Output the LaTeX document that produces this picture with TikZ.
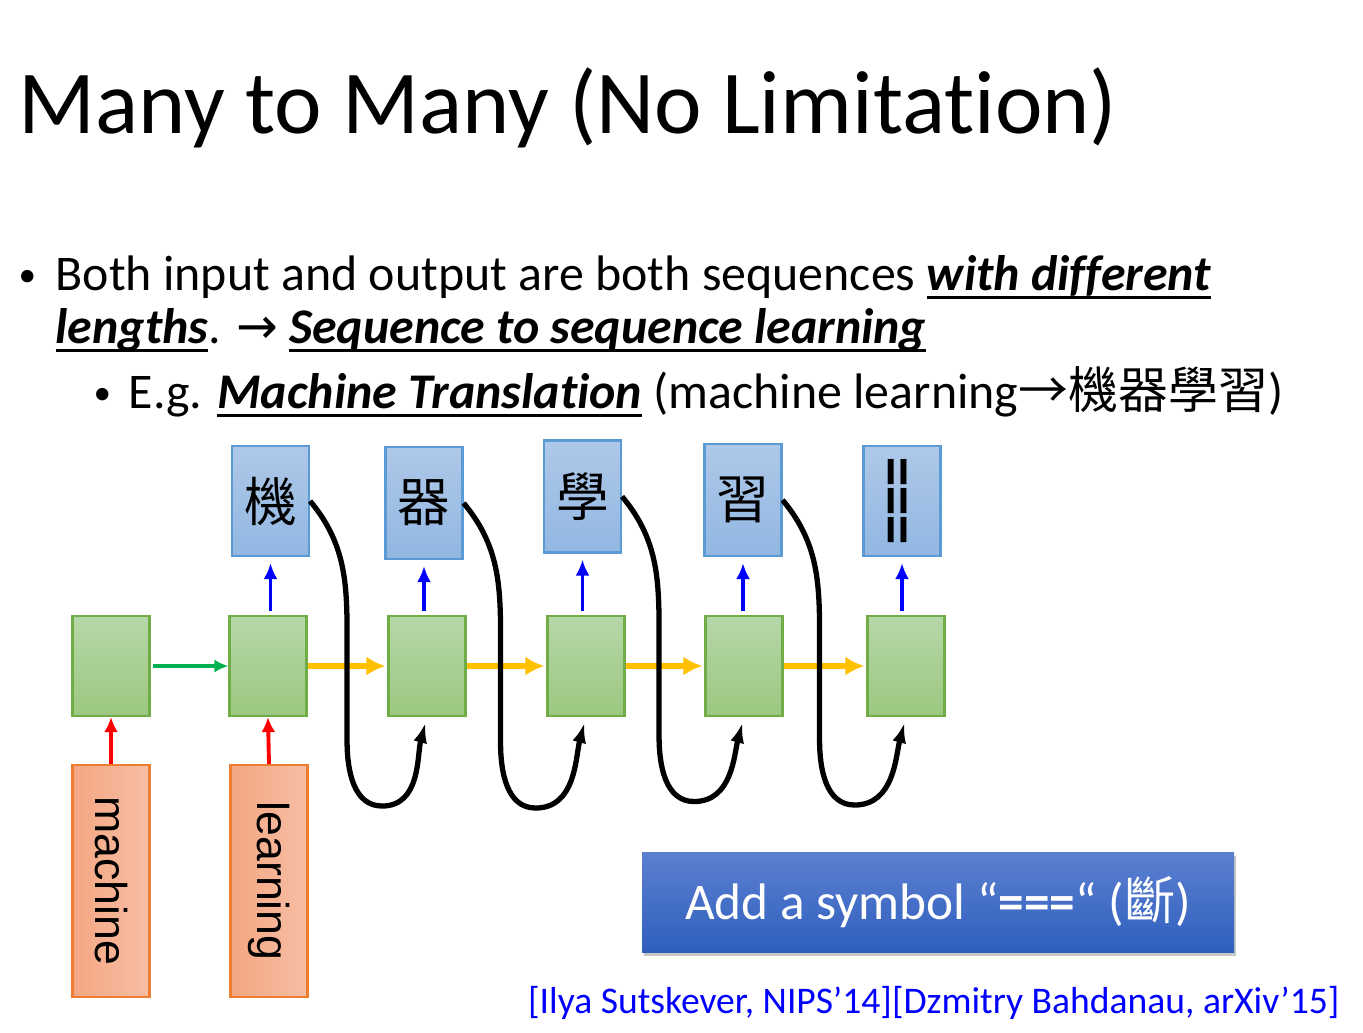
\documentclass[tikz,border=0pt]{standalone}
\usepackage{fontspec}
\setmainfont{Carlito}[Ligatures=NoCommon]
\newfontfamily\cjk{Noto Sans CJK TC}
\newfontfamily\symb{DejaVu Sans}
\newfontfamily\arial{Liberation Sans}
\usetikzlibrary{arrows.meta,shadows}

\newcommand\bfit{\bfseries\itshape}
\newcommand\souligne[1]{\setbox0=\hbox{#1}\rlap{\rule[-0.09cm]{\wd0}{0.03cm}}\box0\relax}
\newcommand\puce{\raisebox{0.04cm}{\fontsize{10}{10}\selectfont •}}

\begin{document}
\begin{tikzpicture}[
    cellule/.style={draw=celluletrait, line width=0.6pt, top color=cellulehaut, bottom color=cellulebas, minimum width=0.77cm, minimum height=1cm, inner sep=0},
    sortie/.style={draw=sortietrait, line width=0.6pt, top color=sortiehaut, bottom color=sortiebas, minimum width=0.77cm, minimum height=1.1cm, inner sep=0, font=\cjk\fontsize{15}{15}\selectfont},
    entree/.style={draw=entreetrait, line width=0.6pt, left color=entreegauche, right color=entreedroite, minimum width=0.77cm, minimum height=2.32cm, inner sep=0},
    texte/.style={anchor=base west, inner sep=0, font=\fontsize{14.2}{17}\selectfont},
    rouge/.style={-{Latex[length=0.15cm,width=0.14cm]}, red, line width=1.1pt},
    bleue/.style={-{Latex[length=0.16cm,width=0.14cm]}, blue, line width=1.1pt},
    verte/.style={-{Latex[length=0.14cm,width=0.13cm]}, flecheverte, line width=1.1pt},
    jaune/.style={-{Latex[length=0.19cm,width=0.19cm]}, flechejaune, line width=1.8pt},
    boucle/.style={-{Latex[length=0.2cm,width=0.14cm]}, black, line width=1.5pt}
  ]
  % Couleurs
  \definecolor{cellulehaut}{RGB}{182, 215, 168}
  \definecolor{cellulebas}{RGB}{156, 200, 128}
  \definecolor{celluletrait}{RGB}{112, 173, 71}
  \definecolor{sortiehaut}{RGB}{174, 200, 232}
  \definecolor{sortiebas}{RGB}{146, 183, 226}
  \definecolor{sortietrait}{RGB}{91, 155, 213}
  \definecolor{entreegauche}{RGB}{244, 166, 130}
  \definecolor{entreedroite}{RGB}{247, 190, 164}
  \definecolor{entreetrait}{RGB}{237, 125, 49}
  \definecolor{flecheverte}{RGB}{0, 176, 80}
  \definecolor{flechejaune}{RGB}{255, 192, 0}
  \definecolor{boutonhaut}{RGB}{92, 128, 208}
  \definecolor{boutonbas}{RGB}{47, 95, 190}

  \useasboundingbox (0,0) rectangle (13.63,-10.32);

  % Titre
  \node[anchor=base west, inner sep=0] (titre) at (0.18,-1.33) {\fontsize{25.6}{30}\selectfont Many to Many (No Limitation)};

  % Puces
  \node[texte] (puce1) at (0.18,-2.90) {\puce};
  \node[texte] (ligne1) at (0.55,-2.90) {Both input and output are both sequences \souligne{\bfit with different}};
  \node[texte] (ligne2) at (0.55,-3.43) {\souligne{\bfit lengths}. {\symb →} \souligne{\bfit Sequence to sequence learning}};
  \node[texte] (puce2) at (0.93,-4.08) {\puce};
  \node[texte] (ligne3) at (1.28,-4.08) {E.g. \souligne{\bfit Machine Translation} (machine learning{\cjk →機器學習})};

  % Cellules
  \node[cellule] (c1) at (1.11,-6.66) {};
  \node[cellule] (c2) at (2.68,-6.66) {};
  \node[cellule] (c3) at (4.27,-6.66) {};
  \node[cellule] (c4) at (5.86,-6.66) {};
  \node[cellule] (c5) at (7.44,-6.66) {};
  \node[cellule] (c6) at (9.06,-6.66) {};

  % Entrées
  \node[entree] (e1) at (1.11,-8.81) {\rotatebox{-90}{\arial\fontsize{12.7}{13}\selectfont machine}};
  \node[entree] (e2) at (2.69,-8.81) {\rotatebox{-90}{\arial\fontsize{12.7}{13}\selectfont learning}};

  % Sorties
  \node[sortie] (s2) at (2.705,-5.01) {機};
  \node[sortie, minimum height=1.12cm] (s3) at (4.24,-5.03) {器};
  \node[sortie, minimum height=1.12cm] (s4) at (5.825,-4.965) {學};
  \node[sortie, minimum height=1.12cm] (s5) at (7.43,-5.00) {習};
  \node[sortie] (s6) at (9.02,-5.01) {\rotatebox{90}{\fontsize{13.5}{13.5}\selectfont\bfseries ===}};

  % Flèches
  \draw[rouge] (e1.north) -- (c1.south);
  \draw[rouge] (e2.north) -- (c2.south);
  \draw[verte, shorten <=0.02cm] (c1.east) -- (c2.west);
  \foreach \i/\j in {2/3, 3/4, 4/5, 5/6} {
    \draw[jaune, shorten >=0.02cm] (c\i.east) -- (c\j.west);
    \draw[boucle, shorten >=0.06cm] (s\i.east) to[out=-50,in=90] ++(0.37,-1.5) -- ++(0,-0.9) to[out=-90,in=180] ++(0.35,-0.65) to[out=0,in=-105] (c\j.south);
  }
  \foreach \i in {2,...,6}
    \draw[bleue, shorten <=0.04cm, shorten >=0.06cm] (s\i.south |- c\i.north) -- (s\i.south);

  % Bouton
  \node[top color=boutonhaut, bottom color=boutonbas, minimum width=5.92cm, minimum height=1cm, inner sep=0,
    drop shadow={shadow xshift=0.02cm, shadow yshift=-0.04cm, opacity=0.45}, text=white,
    font=\fontsize{14.6}{15}\selectfont] (bouton) at (9.38,-9.02) {Add a symbol “{\bfseries ===}“ ({\cjk 斷})};

  % Référence
  \node[anchor=base east, inner sep=0, text=blue] (ref) at (13.40,-10.13) {\fontsize{10.7}{13}\selectfont [Ilya Sutskever, NIPS’14][Dzmitry Bahdanau, arXiv’15]};
\end{tikzpicture}
\end{document}
